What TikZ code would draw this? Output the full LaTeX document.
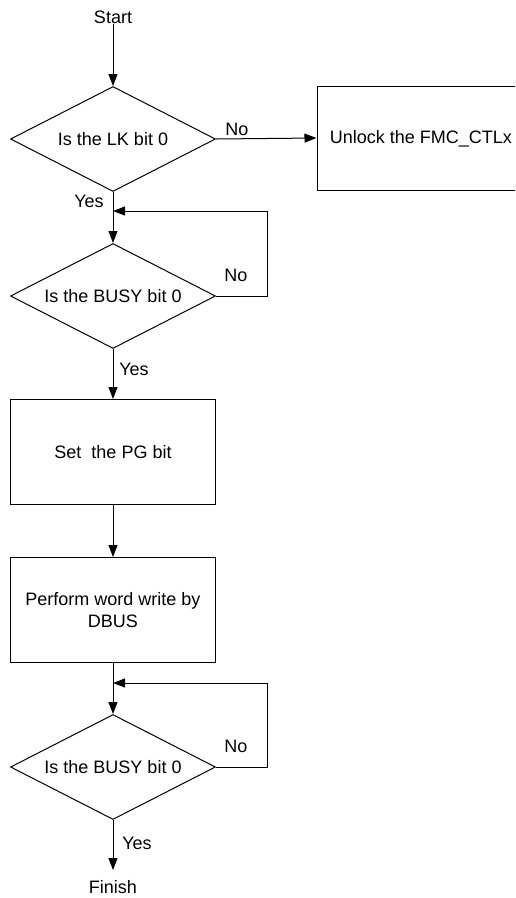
\documentclass[tikz,border=0pt]{standalone}
\usepackage{fontspec}
\setmainfont{Liberation Sans}
\usetikzlibrary{shapes.geometric,arrows.meta}
\begin{document}
\begin{tikzpicture}[x=1pt,y=-1pt,
  every node/.style={font=\fontsize{18}{22}\selectfont},
  line/.style={draw=black,line width=1pt},
  arr/.style={line,-{Triangle[length=12pt,width=9pt]}},
  dec/.style={line,diamond,minimum width=205pt,minimum height=105pt,inner sep=0pt,aspect=1.95},
  proc/.style={line,rectangle,minimum width=205pt,minimum height=105pt,inner sep=0pt,align=center},
  lbl/.style={inner sep=0pt}]
\path[use as bounding box] (0,0) rectangle (515,898);
\clip (0,0) rectangle (515,898);
\node[lbl] (start) at (113,17) {Start};
\node[dec] (d1) at (113,139) {};
\node[lbl] at (113,139) {Is the LK bit 0};
\node[proc,minimum width=208pt,minimum height=104pt] (unlock) at (421,138) {};
\node[lbl] at (421,139) {Unlock the FMC\_CTLx};
\node[dec] (d2) at (113,296) {};
\node[lbl] at (113,296) {Is the BUSY bit 0};
\node[proc] (pg) at (113,452) {Set\ \ the PG bit};
\node[proc] (wr) at (113,610) {Perform word write by\\DBUS};
\node[dec] (d3) at (113,767) {};
\node[lbl] at (113,767) {Is the BUSY bit 0};
\node[lbl] (finish) at (113,887) {Finish};
\coordinate (j1) at (113,211);
\coordinate (j2) at (113,683);
\draw[arr] (start) -- (d1.north);
\draw[arr] (d1.east) -- (unlock.west);
\node[lbl] at (237,129) {No};
\draw[line] (d1.south) -- (j1);
\draw[arr] (j1) -- (d2.north);
\node[lbl] at (89,201) {Yes};
\draw[arr] (d2.east) -- ++(51,0) |- (j1);
\node[lbl] at (236,275) {No};
\draw[arr] (d2.south) -- (pg.north);
\node[lbl] at (134,369) {Yes};
\draw[arr] (pg) -- (wr);
\draw[line] (wr.south) -- (j2);
\draw[arr] (j2) -- (d3.north);
\draw[arr] (d3.east) -- ++(51,0) |- (j2);
\node[lbl] at (236,746) {No};
\draw[arr] (d3.south) -- (113,870);
\node[lbl] at (137,843) {Yes};
\end{tikzpicture}
\end{document}
